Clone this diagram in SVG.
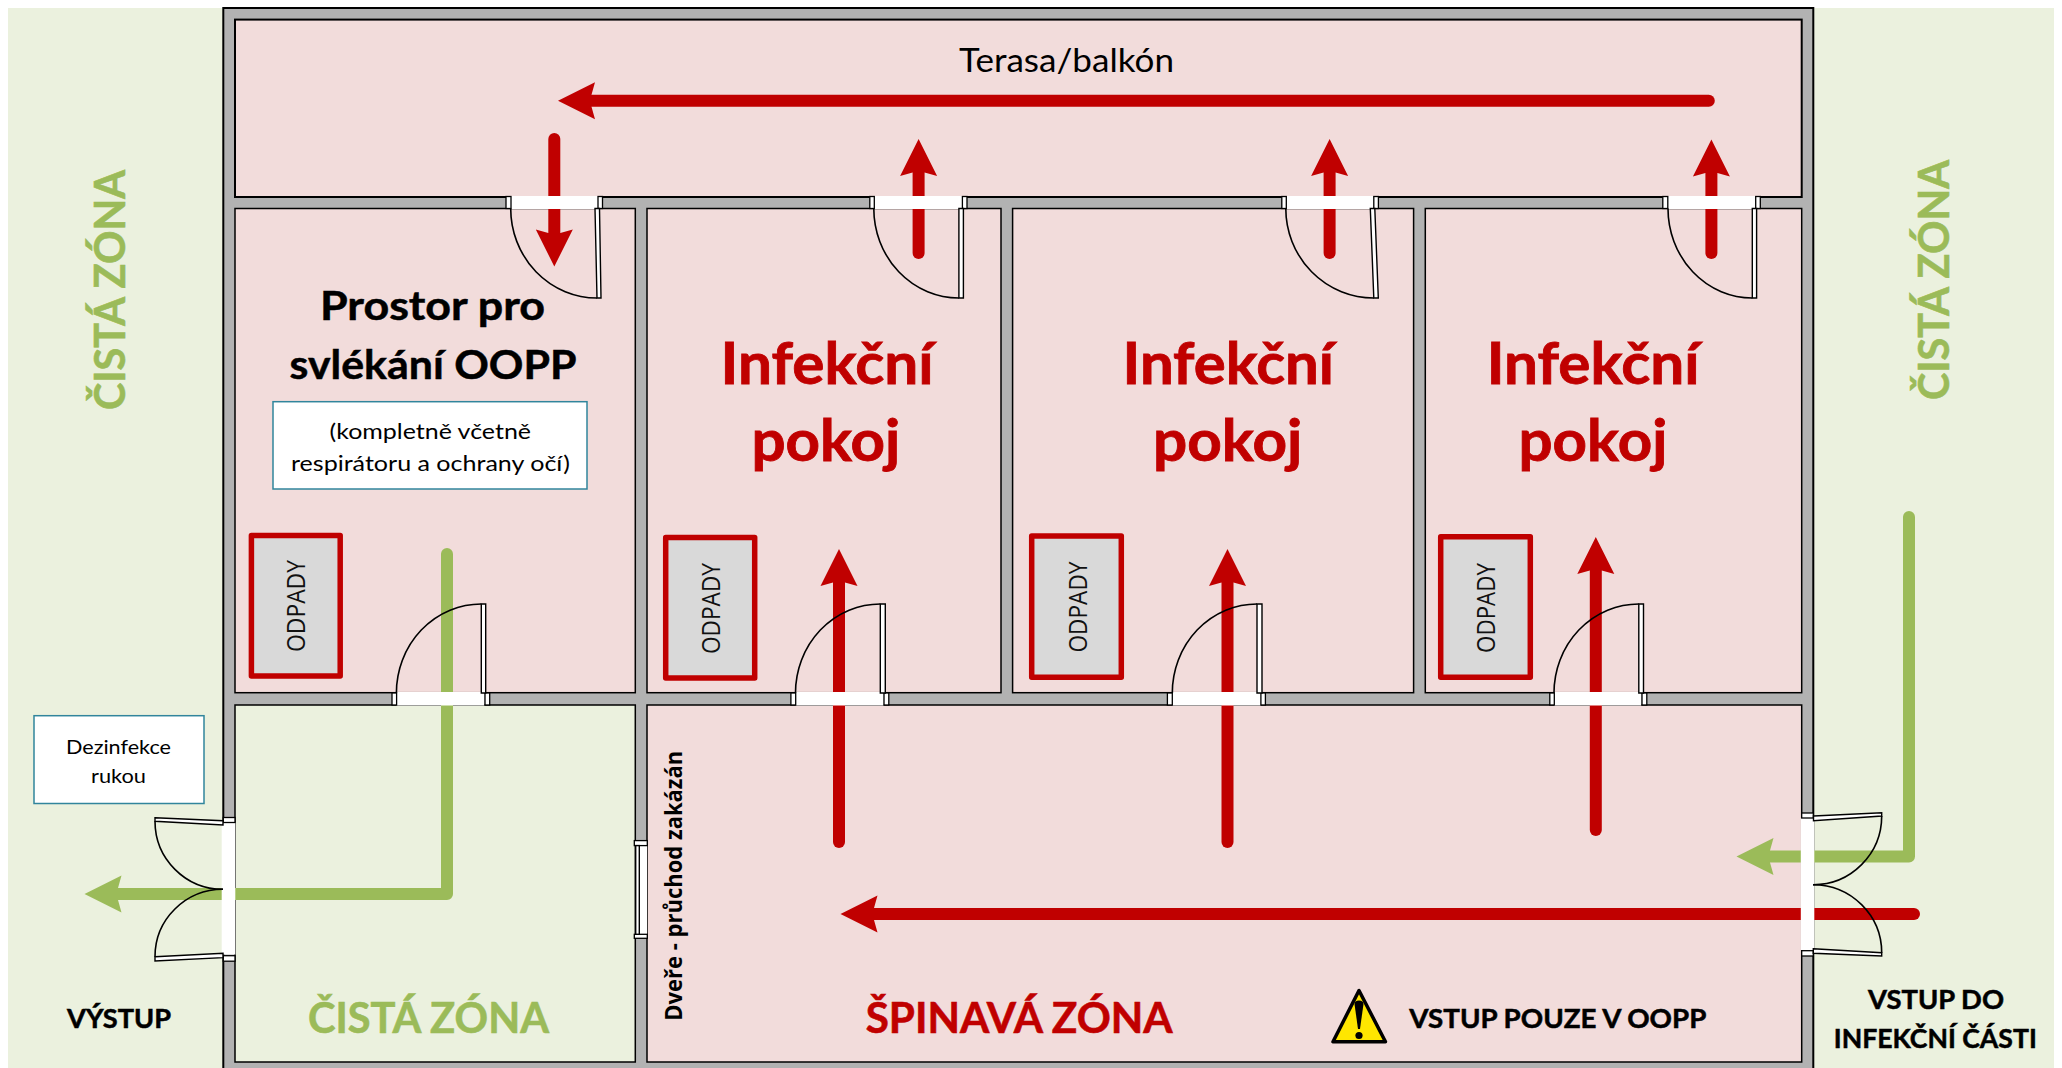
<svg xmlns="http://www.w3.org/2000/svg" width="2062" height="1068" viewBox="0 0 2062 1068">
<style>
text{font-family:"Lato","Noto Sans",sans-serif}
.b{font-weight:700;stroke:#000;stroke-width:.5}
.pink{fill:#F2DCDB;stroke:#000;stroke-width:1.5}
.terr{fill:#F2DCDB;stroke:#000;stroke-width:2}
.clean{fill:#EBF1DE;stroke:#000;stroke-width:1.5}
.wall{fill:#B2B2B2;stroke:#000;stroke-width:2}
.gap{fill:#fff}
.jamb{fill:#fff;stroke:#000;stroke-width:1.3}
.leaf{fill:#fff;stroke:#000;stroke-width:1.4}
.arc{fill:none;stroke:#000;stroke-width:1.6}
.red{fill:none;stroke:#C00000;stroke-width:12;stroke-linecap:round;stroke-linejoin:round}
.grn{fill:none;stroke:#9BBB59;stroke-width:12;stroke-linecap:round;stroke-linejoin:round}
.lr{marker-end:url(#hr)}
.lg{marker-end:url(#hg)}
.note{fill:#fff;stroke:#31859C;stroke-width:1.5}
.bin{fill:#D9D9D9;stroke:#C00000;stroke-width:5.5;stroke-linejoin:round}
.bint{font-family:"Open Sans","Lato",sans-serif;font-size:25px;fill:#111}
.rt{fill:#C00000;font-weight:700;stroke:#C00000;stroke-width:.8}
.gt{fill:#9BBB59;font-weight:700;font-size:42px;stroke:#9BBB59;stroke-width:.6}
</style>
<defs>
<marker id="hr" markerUnits="userSpaceOnUse" viewBox="-4 -20 40 40" refX="0" refY="0" markerWidth="40" markerHeight="40" orient="auto"><path d="M33.5,0L-3.5,-18.5L0,-6V6L-3.5,18.5Z" fill="#C00000"/></marker>
<marker id="hg" markerUnits="userSpaceOnUse" viewBox="-4 -20 40 40" refX="0" refY="0" markerWidth="40" markerHeight="40" orient="auto"><path d="M33.5,0L-3.5,-18.5L0,-6V6L-3.5,18.5Z" fill="#9BBB59"/></marker>
</defs>
<rect width="2062" height="1068" fill="#fff"/>
<rect id="clean-outside" x="8" y="8" width="2046" height="1060" fill="#EBF1DE"/>
<g id="building">
<rect class="wall" x="223.3" y="8" width="1590" height="1075"/>
<rect class="terr" x="235" y="19.6" width="1566.7" height="177.4"/>
<rect class="pink" x="235" y="208.5" width="400.3" height="484.2"/>
<rect class="pink" x="647" y="208.5" width="354" height="484.2"/>
<rect class="pink" x="1012.6" y="208.5" width="401" height="484.2"/>
<rect class="pink" x="1425.3" y="208.5" width="376.4" height="484.2"/>
<rect class="clean" x="235" y="705" width="400.3" height="357"/>
<rect class="pink" x="647" y="705" width="1154.7" height="357"/>
</g>
<g id="connectors">
<path class="red lr" d="M1708.8,100.7H591.5"/>
<path class="red lr" d="M554.3,139V233"/>
<path class="red lr" d="M918.6,253V172.5"/>
<path class="red lr" d="M1329.6,253V172.5"/>
<path class="red lr" d="M1711.4,253V173"/>
<path class="red lr" d="M839,842V582.5"/>
<path class="red lr" d="M1227.5,842V582.5"/>
<path class="red lr" d="M1595.8,830V570.5"/>
<path class="red lr" d="M1914,914H874"/>
<path class="grn lg" d="M447,554V894H118"/>
<path class="grn lg" d="M1909,517V856.5H1770"/>
</g>
<g id="door-terrace-1">
<rect class="gap" x="510.7" y="196" width="87.3" height="13"/>
<rect class="jamb" x="506" y="196.5" width="5" height="12"/><rect class="jamb" x="598" y="196.5" width="4.5" height="12"/>
<path class="leaf" d="M595,208.5H599.5L601,298H597Z"/><path class="arc" d="M510.7,208.5A86.5,89.5 0 0 0 597,298"/>
</g>
<g id="door-terrace-2">
<rect class="gap" x="873.8" y="196" width="88.6" height="13"/>
<rect class="jamb" x="869.8" y="196.5" width="4.5" height="12"/><rect class="jamb" x="962.4" y="196.5" width="4.6" height="12"/>
<path class="leaf" d="M958.9,208.5H963.4V298H958.9Z"/><path class="arc" d="M873.8,208.5A85,89.5 0 0 0 958.9,298"/>
</g>
<g id="door-terrace-3">
<rect class="gap" x="1285.8" y="196" width="88" height="13"/>
<rect class="jamb" x="1281.8" y="196.5" width="4.5" height="12"/><rect class="jamb" x="1373.8" y="196.5" width="4.6" height="12"/>
<path class="leaf" d="M1370.3,208.5H1374.8L1378.3,298H1373.8Z"/><path class="arc" d="M1285.8,208.5A88,89.5 0 0 0 1373.8,298"/>
</g>
<g id="door-terrace-4">
<rect class="gap" x="1668" y="196" width="87.7" height="13"/>
<rect class="jamb" x="1662.8" y="196.5" width="5" height="12"/><rect class="jamb" x="1755.7" y="196.5" width="4.6" height="12"/>
<path class="leaf" d="M1752.3,208.5H1756.6V298H1752.3Z"/><path class="arc" d="M1668,208.5A84.3,89.5 0 0 0 1752.3,298"/>
</g>
<g id="door-clean">
<rect class="gap" x="396.4" y="692" width="88" height="13.5"/>
<rect class="jamb" x="392" y="693" width="4.6" height="12"/><rect class="jamb" x="485" y="693" width="4.7" height="12"/>
<path class="leaf" d="M481.3,604H485.7V693H481.3Z"/><path class="arc" d="M396.4,693A84.9,89 0 0 1 481.3,604"/>
</g>
<g id="door-room-2">
<rect class="gap" x="795.7" y="692" width="88" height="13.5"/>
<rect class="jamb" x="790.9" y="693" width="4.8" height="12"/><rect class="jamb" x="884" y="693" width="4.8" height="12"/>
<path class="leaf" d="M880.3,604H885.3V693H880.3Z"/><path class="arc" d="M795.5,693A84.8,89 0 0 1 880.3,604"/>
</g>
<g id="door-room-3">
<rect class="gap" x="1172.3" y="692" width="88.6" height="13.5"/>
<rect class="jamb" x="1167.4" y="693" width="4.9" height="12"/><rect class="jamb" x="1260.9" y="693" width="4.5" height="12"/>
<path class="leaf" d="M1257,604H1262V693H1257Z"/><path class="arc" d="M1172.3,693A84.7,89 0 0 1 1257,604"/>
</g>
<g id="door-room-4">
<rect class="gap" x="1554" y="692" width="87.3" height="13.5"/>
<rect class="jamb" x="1549.8" y="693" width="4.5" height="12"/><rect class="jamb" x="1642" y="693" width="4.8" height="12"/>
<path class="leaf" d="M1638.8,604H1643.5V693H1638.8Z"/><path class="arc" d="M1554,693A84.8,89 0 0 1 1638.8,604"/>
</g>
<g id="door-exit">
<rect class="gap" x="221.7" y="822.5" width="13.6" height="132"/>
<rect class="jamb" x="223.3" y="817.5" width="11.7" height="5"/><rect class="jamb" x="223.3" y="955.7" width="11.7" height="5.5"/>
<path class="leaf" d="M155,817.7L223,820.7V825L155,821.3Z"/><path class="arc" d="M155,821.3A68,68 0 0 0 223,889.3"/>
<path class="leaf" d="M155,956.7L223,953.3V957.7L155,961Z"/><path class="arc" d="M155,956.7A68,67.4 0 0 1 223,889.3"/>
</g>
<g id="door-entry">
<rect class="gap" x="1800.8" y="818" width="13.5" height="132"/>
<rect class="jamb" x="1801.7" y="813" width="11.6" height="5"/><rect class="jamb" x="1801.7" y="950.7" width="11.6" height="5.3"/>
<path class="leaf" d="M1813.5,816L1881.7,812.7V816L1813.5,820.7Z"/><path class="arc" d="M1881.7,816A68.7,68.7 0 0 1 1813,884.7"/>
<path class="leaf" d="M1813.3,948.7L1881.7,952.7V956L1813.3,953.3Z"/><path class="arc" d="M1881.7,952.7A68.7,68 0 0 0 1813,884.7"/>
</g>
<g id="door-closed">
<rect class="gap" x="635" y="845" width="12" height="90"/>
<rect class="jamb" x="634.3" y="840.6" width="13" height="5"/><rect class="jamb" x="634.3" y="934.3" width="13" height="4"/>
<rect class="leaf" x="635.7" y="845.6" width="3.6" height="88.7"/>
</g>
<g id="bin-1"><rect class="bin" x="251.4" y="535.4" width="88.8" height="140.6"/><text class="bint" transform="translate(304.5,652) rotate(-90)" textLength="92" lengthAdjust="spacingAndGlyphs">ODPADY</text></g>
<g id="bin-2"><rect class="bin" x="665.7" y="537.4" width="89" height="140.6"/><text class="bint" transform="translate(719.6,654) rotate(-90)" textLength="91" lengthAdjust="spacingAndGlyphs">ODPADY</text></g>
<g id="bin-3"><rect class="bin" x="1031.7" y="536" width="89.6" height="141.3"/><text class="bint" transform="translate(1086.8,652.5) rotate(-90)" textLength="91" lengthAdjust="spacingAndGlyphs">ODPADY</text></g>
<g id="bin-4"><rect class="bin" x="1440.7" y="536.7" width="89.6" height="140.6"/><text class="bint" transform="translate(1495,653) rotate(-90)" textLength="90" lengthAdjust="spacingAndGlyphs">ODPADY</text></g>
<g id="note-undress"><rect class="note" x="273" y="401.7" width="314" height="87.3"/>
<text x="329.5" y="438.6" font-size="21" textLength="201.5" lengthAdjust="spacingAndGlyphs">(kompletně včetně</text>
<text x="291" y="470.7" font-size="21" textLength="279" lengthAdjust="spacingAndGlyphs">respirátoru a ochrany očí)</text></g>
<g id="note-hands"><rect class="note" x="34" y="715.7" width="170" height="87.8"/>
<text x="66" y="753.7" font-size="20" textLength="105" lengthAdjust="spacingAndGlyphs">Dezinfekce</text>
<text x="91" y="783" font-size="20" textLength="55" lengthAdjust="spacingAndGlyphs">rukou</text></g>
<g id="warning"><path d="M1359,990.5L1333,1041.8H1385.5Z" fill="#FFE600" stroke="#000" stroke-width="3.5" stroke-linejoin="round"/><path d="M1354.5,1004a4.5,3.5 0 0 1 9,0L1360,1029H1358Z" fill="#000"/><circle cx="1359" cy="1035.5" r="3.6" fill="#000"/></g>
<g id="labels">
<text class="gt" transform="translate(125,410) rotate(-90)" textLength="240" lengthAdjust="spacingAndGlyphs">ČISTÁ ZÓNA</text>
<text class="gt" transform="translate(1948.5,400) rotate(-90)" textLength="240" lengthAdjust="spacingAndGlyphs">ČISTÁ ZÓNA</text>
<text class="gt" x="308" y="1032.7" textLength="241" lengthAdjust="spacingAndGlyphs">ČISTÁ ZÓNA</text>
<text x="959" y="72" font-size="32" textLength="215" lengthAdjust="spacingAndGlyphs">Terasa/balkón</text>
<text class="b" x="320" y="320" font-size="40" textLength="225" lengthAdjust="spacingAndGlyphs">Prostor pro</text>
<text class="b" x="289.5" y="378.6" font-size="40" textLength="287" lengthAdjust="spacingAndGlyphs">svlékání OOPP</text>
<text class="rt" x="720.6" y="384" font-size="56.5" textLength="213" lengthAdjust="spacingAndGlyphs">Infekční</text>
<text class="rt" x="751.4" y="460.7" font-size="56.5" textLength="149" lengthAdjust="spacingAndGlyphs">pokoj</text>
<text class="rt" x="1122.6" y="384" font-size="56.5" textLength="211.4" lengthAdjust="spacingAndGlyphs">Infekční</text>
<text class="rt" x="1153" y="460.7" font-size="56.5" textLength="149.4" lengthAdjust="spacingAndGlyphs">pokoj</text>
<text class="rt" x="1486.7" y="384" font-size="56.5" textLength="212.9" lengthAdjust="spacingAndGlyphs">Infekční</text>
<text class="rt" x="1518.5" y="460.7" font-size="56.5" textLength="148.9" lengthAdjust="spacingAndGlyphs">pokoj</text>
<text class="rt" x="865.7" y="1033.3" font-size="42" textLength="307" lengthAdjust="spacingAndGlyphs" style="stroke-width:.6">ŠPINAVÁ ZÓNA</text>
<text class="b" x="67" y="1027.6" font-size="26.5" textLength="104" lengthAdjust="spacingAndGlyphs">VÝSTUP</text>
<text class="b" x="1409.3" y="1027.6" font-size="26.5" textLength="297" lengthAdjust="spacingAndGlyphs">VSTUP POUZE V OOPP</text>
<text class="b" x="1868" y="1008.7" font-size="26.5" textLength="136" lengthAdjust="spacingAndGlyphs">VSTUP DO</text>
<text class="b" x="1833.8" y="1047.5" font-size="26.5" textLength="203" lengthAdjust="spacingAndGlyphs">INFEKČNÍ ČÁSTI</text>
<text transform="translate(682,1020.7) rotate(-90)" style="font-family:'Open Sans',sans-serif" font-weight="700" font-size="23" textLength="270" lengthAdjust="spacingAndGlyphs">Dveře - průchod zakázán</text>
</g>
</svg>
